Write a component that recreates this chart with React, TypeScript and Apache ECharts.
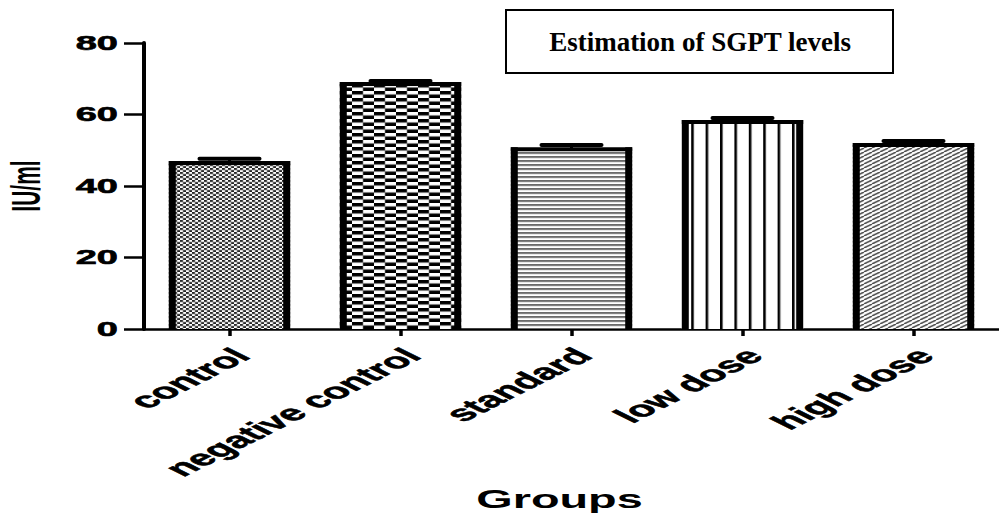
import React, { useEffect, useRef } from "react";
import * as echarts from "echarts";

const categories = ["control", "negative control", "standard", "low dose", "high dose"];
const meanValues = [46.4, 68.5, 50.3, 57.9, 51.5];
const errorValues = [1.2, 0.9, 1.2, 1.1, 1.1];
const yTicks = [0, 20, 40, 60, 80];
const yAxisTitle = "IU/ml";
const xAxisTitle = "Groups";
const chartTitle = "Estimation of SGPT levels";

const SANS = '"Liberation Sans", Arial, Helvetica, sans-serif';
const SERIF = '"Liberation Serif", "Times New Roman", serif';

function makePattern(kind: string) {
  const s = 5;
  let w = 6;
  let h = 4;
  if (kind === "fineChecker") { w = 6; h = 4; }
  if (kind === "checker") { w = 22; h = 7; }
  if (kind === "hlines") { w = 4; h = 4; }
  if (kind === "vlines") { w = 14.4; h = 4; }
  if (kind === "diag") { w = 8; h = 4; }
  const c = document.createElement("canvas");
  c.width = Math.round(w * s);
  c.height = Math.round(h * s);
  const g = c.getContext("2d")!;
  g.fillStyle = "#fff";
  g.fillRect(0, 0, c.width, c.height);
  if (kind === "fineChecker") {
    g.fillStyle = "#262626";
    g.fillRect(0, 0, 3 * s, 2 * s);
    g.fillRect(3 * s, 2 * s, 3 * s, 2 * s);
  } else if (kind === "checker") {
    g.fillStyle = "#000";
    g.fillRect(0, 0, 11 * s, 3.5 * s);
    g.fillRect(11 * s, 3.5 * s, 11 * s, 3.5 * s);
  } else if (kind === "hlines") {
    g.fillStyle = "#6a6a6a";
    g.fillRect(0, 0, 4 * s, 2 * s);
  } else if (kind === "vlines") {
    g.fillStyle = "#000";
    g.fillRect(0, 0, 2.6 * s, 4 * s);
  } else if (kind === "diag") {
    g.strokeStyle = "#4a4a4a";
    g.lineWidth = 1.6 * s;
    for (let k = -1; k <= 1; k++) {
      g.beginPath();
      g.moveTo(k * w * s, h * s);
      g.lineTo((k + 1) * w * s, 0);
      g.stroke();
    }
  }
  return { image: c.toDataURL(), repeat: "repeat", imageWidth: w, imageHeight: h };
}

export default function App() {
  const ref = useRef<HTMLDivElement>(null);

  useEffect(() => {
    const el = ref.current!;
    const chart = echarts.init(el, null, { renderer: "svg" });
    const patterns = ["fineChecker", "checker", "hlines", "vlines", "diag"].map(makePattern);

    chart.setOption({
      animation: false,
      backgroundColor: "#fff",
      grid: { left: 144, top: 43, width: 865, height: 286 },
      xAxis: {
        type: "category",
        data: categories,
        boundaryGap: true,
        axisLine: { show: true, lineStyle: { color: "#000", width: 2.5 } },
        axisTick: { show: true, alignWithLabel: true, length: 7, lineStyle: { color: "#000", width: 3.5 } },
        axisLabel: { show: false },
        splitLine: { show: false },
      },
      yAxis: {
        type: "value",
        min: 0,
        max: 80,
        interval: 20,
        axisLine: { show: true, lineStyle: { color: "#000", width: 4 } },
        axisTick: { show: true, length: 20, lineStyle: { color: "#000", width: 2.5 } },
        axisLabel: { show: false },
        splitLine: { show: false },
      },
      series: [
        {
          type: "custom",
          data: meanValues.map((v, i) => [i, v, errorValues[i]]),
          encode: { x: 0, y: 1 },
          renderItem: (params: any, api: any) => {
            const i = api.value(0);
            const v = api.value(1);
            const e = api.value(2);
            const p = api.coord([i, v]);
            const cx = p[0];
            const top = p[1];
            const base = api.coord([i, 0])[1];
            const capY = api.coord([i, v + e])[1];
            const band = api.size([1, 0])[0];
            const w = band * 0.71;
            const x0 = cx - w / 2;
            const side = 7;
            const topB = 4;
            const capW = 64;
            const capH = 4;
            return {
              type: "group",
              children: [
                { type: "rect", shape: { x: x0, y: top, width: w, height: base - top }, style: { fill: patterns[params.dataIndex] } },
                { type: "line", shape: { x1: cx, y1: capY, x2: cx, y2: top }, style: { stroke: "#000", lineWidth: 3 } },
                { type: "rect", shape: { x: x0, y: top - topB / 2, width: side, height: base - top + topB / 2 }, style: { fill: "#000" } },
                { type: "rect", shape: { x: x0 + w - side, y: top - topB / 2, width: side, height: base - top + topB / 2 }, style: { fill: "#000" } },
                { type: "rect", shape: { x: x0, y: top - topB / 2, width: w, height: topB }, style: { fill: "#000" } },
                { type: "rect", shape: { x: cx - capW / 2, y: capY - capH / 2, width: capW, height: capH, r: 2 }, style: { fill: "#000" } },
              ],
            };
          },
        },
      ],
    });

    const px = (i: number, v: number) => chart.convertToPixel({ gridIndex: 0 }, [i, v]) as number[];
    const c0 = px(0, 0);
    const c1 = px(1, 0);
    const halfBand = (c1[0] - c0[0]) / 2;
    const axisX = c0[0] - halfBand;
    const axisY = c0[1];
    const topY = px(0, yTicks[yTicks.length - 1])[1];

    const graphics: any[] = [];
    yTicks.forEach((v) => {
      const y = px(0, v)[1];
      graphics.push({
        type: "group",
        x: axisX - 26,
        y,
        scaleX: 1.9,
        children: [
          { type: "text", style: { text: String(v), font: `bold 20px ${SANS}`, fill: "#000", align: "right", verticalAlign: "middle", stroke: "#000", lineWidth: 0.6 } },
        ],
      });
    });
    categories.forEach((name, i) => {
      const x = px(i, 0)[0];
      graphics.push({
        type: "group",
        x: x + 12,
        y: axisY + 23,
        scaleX: 2.0,
        children: [
          { type: "text", rotation: Math.PI / 4, style: { text: name, font: `bold 22px ${SANS}`, fill: "#000", align: "right", verticalAlign: "middle", stroke: "#000", lineWidth: 0.5 } },
        ],
      });
    });
    graphics.push({
      type: "group",
      x: (axisX + 999) / 2 - 12,
      y: 499,
      scaleX: 1.8,
      children: [
        { type: "text", style: { text: xAxisTitle, font: `bold 26px ${SANS}`, fill: "#000", align: "center", verticalAlign: "middle" } },
      ],
    });
    graphics.push({
      type: "group",
      x: 26,
      y: (axisY + topY) / 2,
      scaleX: 1.9,
      children: [
        { type: "text", rotation: Math.PI / 2, style: { text: yAxisTitle, font: `bold 21px ${SANS}`, fill: "#000", align: "center", verticalAlign: "middle" } },
      ],
    });
    graphics.push({
      type: "rect",
      shape: { x: 506, y: 10, width: 387, height: 63 },
      style: { fill: "#fff", stroke: "#000", lineWidth: 2 },
      z: 10,
    });
    graphics.push({
      type: "text",
      x: 700,
      y: 42,
      z: 11,
      style: { text: chartTitle, font: `bold 27px ${SERIF}`, fill: "#000", align: "center", verticalAlign: "middle" },
    });

    chart.setOption({ graphic: graphics });

    return () => chart.dispose();
  }, []);

  return (
    <div
      ref={ref}
      style={{ position: "fixed", left: 0, top: 0, width: 999, height: 515, background: "#fff" }}
    />
  );
}
